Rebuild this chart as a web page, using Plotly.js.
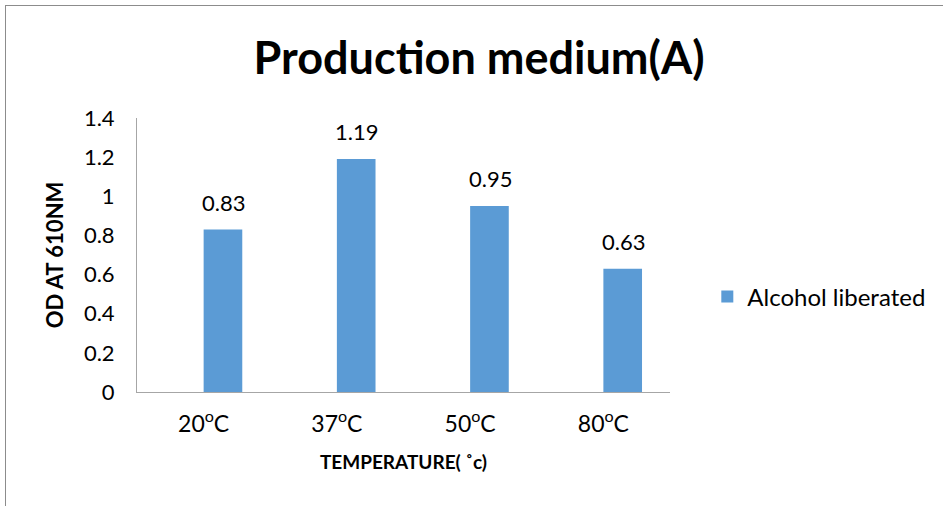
<!DOCTYPE html>
<html>
<head>
<meta charset="utf-8">
<script src="https://cdn.plot.ly/plotly-3.0.1.min.js"></script>
<style>
html,body{margin:0;padding:0;background:#fff;}
#wrap{position:relative;width:943px;height:506px;}
#frame{position:absolute;left:5px;top:5px;right:0;bottom:-2px;border-left:1px solid #8c8c8c;border-top:1px solid #8c8c8c;pointer-events:none;z-index:5;}
#chart{position:absolute;left:0;top:0;width:943px;height:506px;}
</style>
</head>
<body>
<div id="wrap"><div id="chart"></div><div id="frame"></div></div>
<script>
const categories = ["20<sup>o</sup>C", "37<sup>o</sup>C", "50<sup>o</sup>C", "80<sup>o</sup>C"];
const values = [0.83, 1.19, 0.95, 0.63];
const seriesName = "Alcohol liberated";
const yTickVals = [0, 0.2, 0.4, 0.6, 0.8, 1, 1.2, 1.4];

const FONT = "Lato, 'Open Sans', sans-serif";

const trace = {
  type: "bar",
  x: categories,
  y: values,
  name: seriesName,
  marker: {color: "#5b9bd5"},
  width: 0.29,
  offset: 0,
  showlegend: true,
  hoverinfo: "none"
};

const annotations = categories.map((c, i) => ({
  x: c, y: values[i], xref: "x", yref: "y",
  text: values[i].toFixed(2), showarrow: false,
  yanchor: "bottom", yshift: 12, xshift: 20,
  font: {family: FONT, size: 22, color: "#000"}
}));

const layout = {
  width: 943, height: 506,
  margin: {l: 137, r: 266, t: 118, b: 114},
  paper_bgcolor: "#fff", plot_bgcolor: "#fff",
  title: {text: "<b>Production medium(A)</b>", x: 0.508, xanchor: "center", y: 0.885, yanchor: "middle",
          font: {family: FONT, size: 45, color: "#000"}},
  xaxis: {
    showline: true, linecolor: "#a6a6a6", linewidth: 1,
    showgrid: false, zeroline: false,
    ticks: "outside", ticklen: 11, tickcolor: "rgba(0,0,0,0)",
    tickfont: {family: FONT, size: 23, color: "#000"},
    title: {text: "<b>TEMPERATURE( ˚c)</b>", standoff: 20, font: {family: FONT, size: 19, color: "#000"}}
  },
  yaxis: {
    range: [0, 1.4], tickvals: yTickVals,
    showline: true, linecolor: "#a6a6a6", linewidth: 1,
    showgrid: false, zeroline: false,
    ticks: "outside", ticklen: 17, tickcolor: "rgba(0,0,0,0)",
    tickfont: {family: FONT, size: 22, color: "#000"},
    title: {text: "<b>OD AT 610NM</b>", standoff: 14, font: {family: FONT, size: 22, color: "#000"}}
  },
  legend: {x: 1.07, y: 0.347, xanchor: "left", yanchor: "middle",
           font: {family: FONT, size: 24, color: "#000"}, itemwidth: 30},
  annotations: annotations
};

Plotly.newPlot("chart", [trace], layout, {displayModeBar: false, staticPlot: true});
</script>
</body>
</html>
